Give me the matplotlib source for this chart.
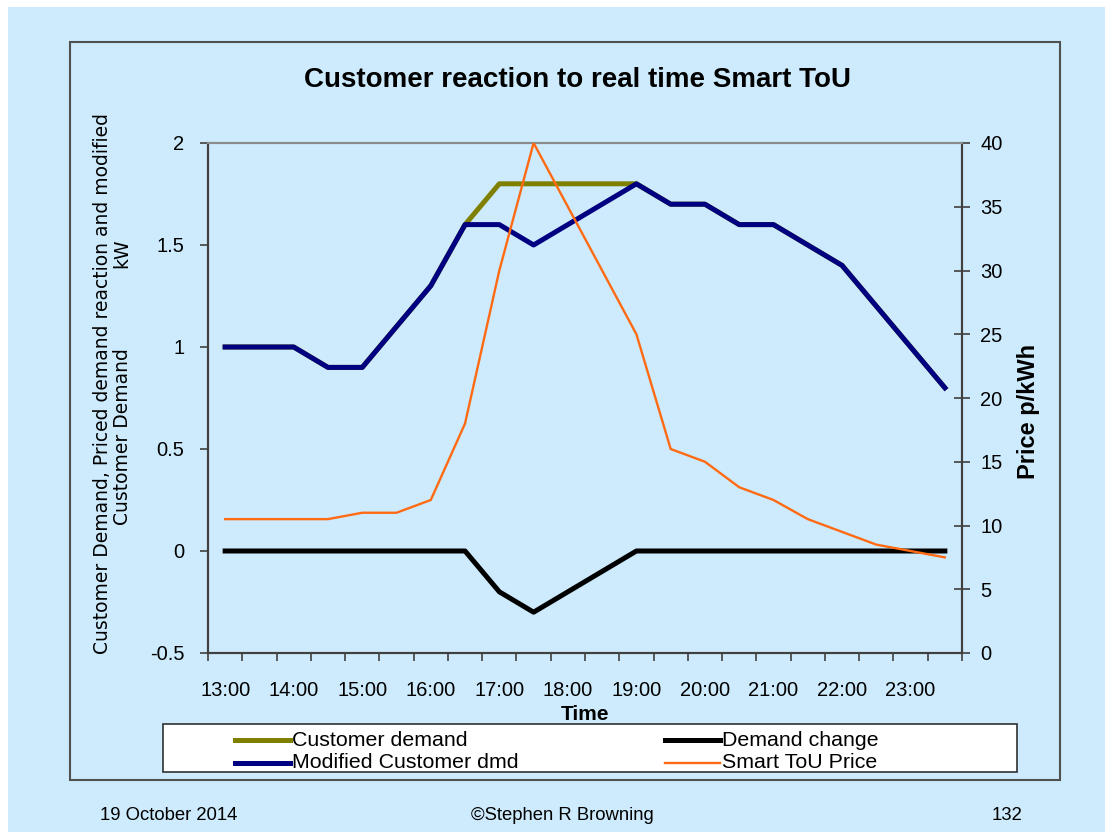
import matplotlib
matplotlib.use("Agg")
import numpy as np
import matplotlib.pyplot as plt
from matplotlib.patches import Rectangle
from matplotlib.lines import Line2D

times = ['13:00', '13:30', '14:00', '14:30', '15:00', '15:30', '16:00', '16:30',
         '17:00', '17:30', '18:00', '18:30', '19:00', '19:30', '20:00', '20:30',
         '21:00', '21:30', '22:00', '22:30', '23:00', '23:30']
customer_demand = [1.0, 1.0, 1.0, 0.9, 0.9, 1.1, 1.3, 1.6, 1.8, 1.8, 1.8, 1.8,
                   1.8, 1.7, 1.7, 1.6, 1.6, 1.5, 1.4, 1.2, 1.0, 0.8]
demand_change = [0, 0, 0, 0, 0, 0, 0, 0, -0.2, -0.3, -0.2, -0.1,
                 0, 0, 0, 0, 0, 0, 0, 0, 0, 0]
modified_dmd = [1.0, 1.0, 1.0, 0.9, 0.9, 1.1, 1.3, 1.6, 1.6, 1.5, 1.6, 1.7,
                1.8, 1.7, 1.7, 1.6, 1.6, 1.5, 1.4, 1.2, 1.0, 0.8]
tou_price = [10.5, 10.5, 10.5, 10.5, 11, 11, 12, 18, 30, 40, 35, 30,
             25, 16, 15, 13, 12, 10.5, 9.5, 8.5, 8, 7.5]

bg = '#cdebfc'
W, H = 1105, 832
thick = 3.6
plt.rcParams['font.family'] = ['Liberation Sans', 'DejaVu Sans']

fig = plt.figure(figsize=(W/100, H/100), dpi=100, facecolor='white')
# slide background
fig.patches.append(Rectangle((8/W, 0), 1, 1-7/H, transform=fig.transFigure,
                             facecolor=bg, edgecolor='none', zorder=-10))
# chart area border
fig.patches.append(Rectangle((70/W, 1-780/H), 990/W, 738/H, transform=fig.transFigure,
                             facecolor=bg, edgecolor='#505050', lw=1.5, zorder=-5))

ax = fig.add_axes([208/W, 1-653/H, 754/W, 510/H])
ax.set_facecolor(bg)
x = np.arange(len(times))

ax.plot(x, customer_demand, color='#808000', lw=thick, solid_joinstyle='round', zorder=2)
ax.plot(x, modified_dmd, color='#000080', lw=thick, solid_joinstyle='round', zorder=3)
ax.plot(x, demand_change, color='black', lw=thick, solid_joinstyle='round', zorder=4)
ax.set_ylim(-0.5, 2)
ax.set_yticks(np.arange(-0.5, 2.01, 0.5))
ax.set_yticklabels(['-0.5', '0', '0.5', '1', '1.5', '2'])
ax.set_xlim(-0.5, len(times)-0.5)
ax.set_xticks(x[::2])
ax.set_xticklabels(times[::2])
ax.set_xticks(np.arange(-0.5, len(times), 1), minor=True)
ax.tick_params(axis='x', which='major', length=0, pad=20, labelsize=14.5)
ax.tick_params(axis='x', which='minor', length=6, width=1.2, color='#404040')
ax.tick_params(axis='y', length=6, width=1.2, color='#404040', labelsize=14.5, pad=11)
ax.set_xlabel('Time', fontsize=15, fontweight='bold', labelpad=4)

ax2 = ax.twinx()
ax2.plot(x, tou_price, color='#ff6a13', lw=1.7, zorder=5)
ax2.set_ylim(0, 40)
ax2.set_yticks(np.arange(0, 41, 5))
ax2.tick_params(axis='y', direction='inout', length=12, width=1.2, color='#404040',
                labelsize=14.5, pad=7)

for a in (ax, ax2):
    a.spines['top'].set_color('#8c8c8c')
    a.spines['top'].set_linewidth(1.5)
    for s in ('left', 'right', 'bottom'):
        a.spines[s].set_color('#404040')
        a.spines[s].set_linewidth(1.5)

fig.text(578/W, 1-80/H, 'Customer reaction to real time Smart ToU', ha='center', va='center',
         fontsize=20, fontweight='bold')
fig.text(103/W, 1-384/H, 'Customer Demand, Priced demand reaction and modified',
         rotation=90, ha='center', va='center', fontsize=13.5, family='DejaVu Sans')
fig.text(122/W, 1-437/H, 'Customer Demand', rotation=90, ha='center', va='center',
         fontsize=13.5, family='DejaVu Sans')
fig.text(122/W, 1-253/H, 'kW', rotation=90, ha='center', va='center',
         fontsize=13.5, family='DejaVu Sans')
fig.text(1028/W, 1-411/H, 'Price p/kWh', rotation=90, ha='center', va='center',
         fontsize=17, fontweight='bold')

# legend box
fig.patches.append(Rectangle((163/W, 1-772/H), 854/W, 48/H, transform=fig.transFigure,
                             facecolor='white', edgecolor='#303030', lw=1.2, zorder=1))
entries = [('Customer demand', '#808000', thick, 235, 740),
           ('Modified Customer dmd', '#000080', thick, 235, 763),
           ('Demand change', 'black', thick, 665, 740),
           ('Smart ToU Price', '#ff6a13', 1.7, 665, 763)]
for label, c, lw, px, py in entries:
    fig.lines.append(Line2D([px/W, (px+55)/W], [1-py/H, 1-py/H], transform=fig.transFigure,
                            color=c, lw=lw, zorder=2))
    fig.text((px+57)/W, 1-py/H, label, ha='left', va='center', fontsize=15.4, zorder=3)

fig.text(100/W, 1-816/H, '19 October 2014', ha='left', va='center', fontsize=13.3)
fig.text(562/W, 1-816/H, '\u00a9Stephen R Browning', ha='center', va='center', fontsize=13.3)
fig.text(1022/W, 1-816/H, '132', ha='right', va='center', fontsize=13.3)

fig.savefig('out.png', dpi=100, facecolor=fig.get_facecolor())
